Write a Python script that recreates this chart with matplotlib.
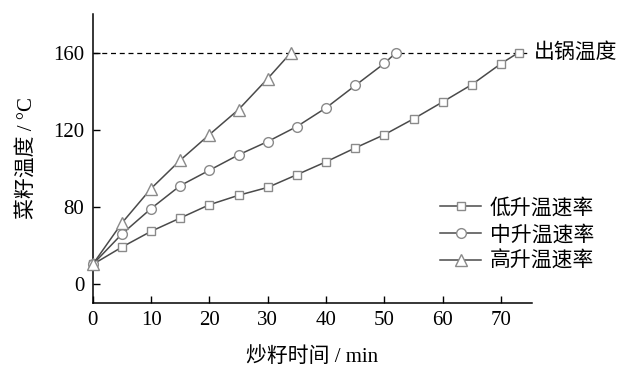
import matplotlib
matplotlib.use("Agg")
import matplotlib.pyplot as plt

# ── Data ─────────────────────────────────────────────────────────────────────
# y values are in the chart's own drawn scale (bottom tick is labelled "0")
t_low  = [0, 5, 10, 15, 20, 25, 30, 35, 40, 45, 50, 55, 60, 65, 70, 73]
T_low  = [50, 59, 67.2, 74.1, 81, 85.9, 90, 96.6, 103.3, 110.5, 117.4,
          125.6, 134.4, 143.4, 154.3, 160]
t_mid  = [0, 5, 10, 15, 20, 25, 30, 35, 40, 45, 50, 52]
T_mid  = [50, 65.8, 79, 90.9, 98.9, 106.9, 113.8, 121.6, 131.3, 142.9, 154.4, 160]
t_high = [0, 5, 10, 15, 20, 25, 30, 34]
T_high = [50, 71.5, 89.4, 104.1, 117.4, 130.4, 146.5, 160]

series_labels = ["低升温速率", "中升温速率", "高升温速率"]
end_temp = 160
end_label = "出锅温度"

x_ticks = [0, 10, 20, 30, 40, 50, 60, 70]
y_ticks = [40, 80, 120, 160]
y_tick_labels = ["0", "80", "120", "160"]

# ── Style ─────────────────────────────────────────────────────────────────────
plt.rcParams["font.family"] = ["Liberation Serif", "Noto Sans CJK SC"]
plt.rcParams["font.size"] = 15
LINE_C = "#4a4a4a"
EDGE_C = "#8a8a8a"

fig = plt.figure(figsize=(6.18, 3.67), dpi=100)
ax = fig.add_axes([0.150, 0.1744, 0.711, 0.7875])

ax.plot([0, 74.4], [end_temp, end_temp], linestyle=(0, (4, 3)),
        color="black", linewidth=0.9, zorder=1)

styles = [("s", 6.3), ("o", 7.0), ("^", 8.3)]
for (t, T), lbl, (mk, ms) in zip([(t_low, T_low), (t_mid, T_mid), (t_high, T_high)],
                                 series_labels, styles):
    ax.plot(t, T, color=LINE_C, linewidth=1.1, marker=mk, markersize=ms,
            markerfacecolor="white", markeredgecolor=EDGE_C,
            markeredgewidth=1.0, label=lbl, clip_on=False, zorder=3)

ax.annotate(end_label, xy=(1.0, end_temp), xycoords=("axes fraction", "data"),
            xytext=(1, 0), textcoords="offset points",
            ha="left", va="center", annotation_clip=False)

ax.set_xlim(0, 75.3)
ax.set_ylim(30, 180)
ax.set_xticks(x_ticks)
ax.set_yticks(y_ticks)
ax.set_yticklabels(y_tick_labels)
ax.tick_params(direction="in", length=5, width=1, pad=6)
for side in ("top", "right"):
    ax.spines[side].set_visible(False)
for side in ("left", "bottom"):
    ax.spines[side].set_linewidth(1.1)

ax.set_xlabel("炒籽时间 / min", labelpad=12)
ax.set_ylabel("菜籽温度 / °C", labelpad=12)

ax.legend(loc="upper left", bbox_to_anchor=(0.79, 0.36), frameon=False,
          handlelength=2.0, handletextpad=0.4, labelspacing=0.32,
          borderpad=0, borderaxespad=0)

fig.savefig("out.png", dpi=100, facecolor="white")
